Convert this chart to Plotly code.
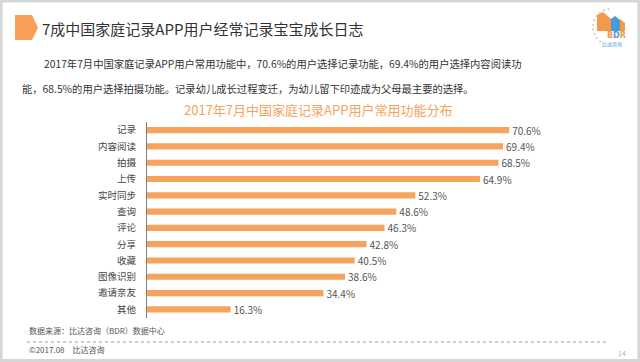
import plotly.graph_objects as go
import math

categories = ["记录", "内容阅读", "拍摄", "上传", "实时同步", "查询", "评论", "分享", "收藏", "图像识别", "邀请亲友", "其他"]
values = [70.6, 69.4, 68.5, 64.9, 52.3, 48.6, 46.3, 42.8, 40.5, 38.6, 34.4, 16.3]
value_labels = [f"{v:.1f}%" for v in values]

W, H = 640, 362
FONT = "Noto Sans CJK SC"
ORANGE = "#F7A35C"
LOGO_O = "#F29A4A"
LOGO_B = "#4A9ADB"


def px(x):
    return x / W


def py(y):
    return 1 - y / H


fig = go.Figure()
fig.add_trace(go.Bar(
    x=values, y=categories, orientation="h",
    marker=dict(color=ORANGE, line=dict(width=0)),
    width=0.38,
    text=value_labels, textposition="outside", constraintext="none",
    textfont=dict(family=FONT, size=10, color="#555555"),
    cliponaxis=False, hoverinfo="skip",
))

fig.update_layout(
    width=W, height=H,
    margin=dict(l=0, r=0, t=0, b=0),
    paper_bgcolor="white", plot_bgcolor="white",
    showlegend=False,
    font=dict(family=FONT),
    xaxis=dict(domain=[px(147), px(147 + 90 * 5.13)], range=[0, 90],
               showgrid=False, zeroline=False, showticklabels=False, showline=False),
    yaxis=dict(domain=[py(317.5), py(122)], autorange="reversed",
               showgrid=False, zeroline=False, showline=True, linecolor="#7f7f7f", linewidth=1,
               ticks="", ticklabelstandoff=8,
               tickfont=dict(family=FONT, size=9.5, color="#444444")),
)

shapes = []
# outer frame
shapes.append(dict(type="rect", xref="paper", yref="paper", x0=px(1), x1=px(639), y0=py(360.5), y1=py(1),
                   line=dict(color="#d6d6d6", width=3), fillcolor="rgba(0,0,0,0)"))
# orange pentagon marker
shapes.append(dict(type="path", xref="paper", yref="paper",
                   path=f"M {px(15)},{py(15)} L {px(32)},{py(15)} L {px(38)},{py(27.5)} L {px(32)},{py(40)} L {px(15)},{py(40)} Z",
                   fillcolor="#F9A057", line=dict(width=0)))
# dotted separator
shapes.append(dict(type="line", xref="paper", yref="paper", x0=px(27), x1=px(609), y0=py(342), y1=py(342),
                   line=dict(color="#9a9a9a", width=1, dash="dot")))
# logo buildings
shapes.append(dict(type="path", xref="paper", yref="paper",
                   path=f"M {px(597)},{py(31)} L {px(597)},{py(15)} L {px(603)},{py(12)} L {px(611)},{py(19)} L {px(611)},{py(31)} Z",
                   fillcolor=LOGO_O, line=dict(width=0)))
shapes.append(dict(type="path", xref="paper", yref="paper",
                   path=f"M {px(611)},{py(31)} L {px(611)},{py(19)} L {px(615)},{py(16)} L {px(620)},{py(20)} L {px(620)},{py(31)} Z",
                   fillcolor=LOGO_B, line=dict(width=0)))
shapes.append(dict(type="path", xref="paper", yref="paper",
                   path=f"M {px(620)},{py(31)} L {px(620)},{py(19)} L {px(625)},{py(23)} L {px(625)},{py(31)} Z",
                   fillcolor=LOGO_O, line=dict(width=0)))
# logo dotted arc
for i in range(10):
    a = math.radians(98 + i * 15)
    cx, cy, r = 611, 27, 18
    x = cx + r * math.cos(a)
    y = cy - r * math.sin(a)
    shapes.append(dict(type="circle", xref="paper", yref="paper",
                       x0=px(x - 0.9), x1=px(x + 0.9), y0=py(y + 0.9), y1=py(y - 0.9),
                       fillcolor="#F4B27A", line=dict(width=0)))
fig.update_layout(shapes=shapes)

annotations = [
    dict(text="7成中国家庭记录APP用户经常记录宝宝成长日志", x=px(40), y=py(29), xanchor="left", yanchor="middle",
         font=dict(family=FONT, size=15, color="#333333")),
    dict(text="2017年7月中国家庭记录APP用户常用功能中，70.6%的用户选择记录功能，69.4%的用户选择内容阅读功",
         x=px(42), y=py(63), xanchor="left", yanchor="middle",
         font=dict(family=FONT, size=10.3, color="#333333")),
    dict(text="能，68.5%的用户选择拍摄功能。记录幼儿成长过程变迁，为幼儿留下印迹成为父母最主要的选择。",
         x=px(20), y=py(88), xanchor="left", yanchor="middle",
         font=dict(family=FONT, size=10.3, color="#333333")),
    dict(text="2017年7月中国家庭记录APP用户常用功能分布", x=px(318), y=py(109), xanchor="center", yanchor="middle",
         font=dict(family=FONT, size=13, color="#F4A460")),
    dict(text="数据来源：比达咨询（BDR）数据中心", x=px(27), y=py(330), xanchor="left", yanchor="middle",
         font=dict(family=FONT, size=8, color="#555555")),
    dict(text="©2017.08　比达咨询", x=px(27), y=py(349), xanchor="left", yanchor="middle",
         font=dict(family=FONT, size=8, color="#555555")),
    dict(text="14", x=px(622), y=py(353), xanchor="center", yanchor="middle",
         font=dict(family=FONT, size=7, color="#b0b0b0")),
    dict(text=f"<b><span style='color:{LOGO_O}'>B</span><span style='color:{LOGO_B}'>D</span><span style='color:{LOGO_O}'>R</span></b>",
         x=px(616), y=py(35), xanchor="center", yanchor="middle",
         font=dict(family="DejaVu Sans", size=8, color=LOGO_O)),
    dict(text="比达咨询", x=px(612), y=py(44), xanchor="center", yanchor="middle",
         font=dict(family=FONT, size=5, color=LOGO_B)),
]
for a in annotations:
    a.update(xref="paper", yref="paper", showarrow=False)
fig.update_layout(annotations=annotations)

fig.write_html("out.html", config={"displayModeBar": False},
               post_script="document.body.style.margin='0';document.body.style.padding='0';")
